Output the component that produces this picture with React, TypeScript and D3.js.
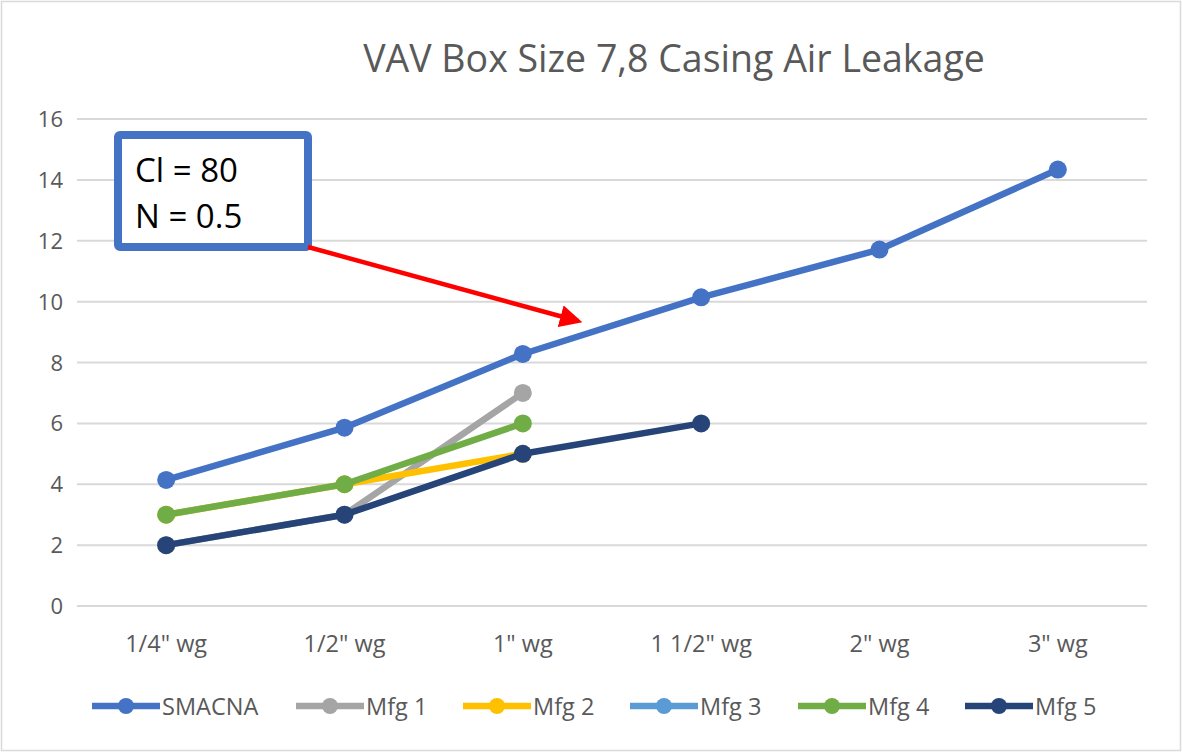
import { useEffect, useRef } from 'react';
import * as d3 from 'd3';

const categories = ['1/4" wg', '1/2" wg', '1" wg', '1 1/2" wg', '2" wg', '3" wg'];
const yTicks = [0, 2, 4, 6, 8, 10, 12, 14, 16];

const smacna = [4.14, 5.86, 8.28, 10.14, 11.71, 14.34];
const mfg1 = [2, 3, 7, null, null, null];
const mfg2 = [3, 4, 5, null, null, null];
const mfg3 = [null, null, null, null, null, null];
const mfg4 = [3, 4, 6, null, null, null];
const mfg5 = [2, 3, 5, 6, null, null];

const seriesNames = ['SMACNA', 'Mfg 1', 'Mfg 2', 'Mfg 3', 'Mfg 4', 'Mfg 5'];
const seriesColors = ['#4472C4', '#A5A5A5', '#FFC000', '#5B9BD5', '#70AD47', '#264478'];
const annotationLines = ['Cl = 80', 'N = 0.5'];

const FONT = '"Open Sans", "DejaVu Sans", sans-serif';

function App() {
  const ref = useRef<SVGSVGElement>(null);

  useEffect(() => {
    document.body.style.margin = '0';
    const w = 1182;
    const h = 752;
    const m = { top: 119, right: 35, bottom: 146, left: 77 };

    const svg = d3.select(ref.current).attr('width', w).attr('height', h);
    svg.selectAll('*').remove();

    svg.append('rect')
      .attr('x', 1.5).attr('y', 1.5)
      .attr('width', w - 3).attr('height', h - 3)
      .attr('fill', '#fff').attr('stroke', '#d9d9d9').attr('stroke-width', 1.5);

    const x = d3.scaleBand().domain(categories).range([m.left, w - m.right]);
    const y = d3.scaleLinear().domain([0, 16]).range([h - m.bottom, m.top]);
    const cx = (c: string) => (x(c) as number) + x.bandwidth() / 2;

    svg.append('text')
      .attr('x', 674).attr('y', 72)
      .attr('text-anchor', 'middle')
      .attr('font-family', FONT).attr('font-size', 37.5)
      .attr('fill', '#595959')
      .text('VAV Box Size 7,8 Casing Air Leakage');

    // gridlines
    svg.append('g')
      .selectAll('line')
      .data(yTicks)
      .join('line')
      .attr('x1', m.left).attr('x2', w - m.right)
      .attr('y1', d => y(d)).attr('y2', d => y(d))
      .attr('stroke', '#d9d9d9').attr('stroke-width', 2);

    // y labels
    svg.append('g')
      .selectAll('text')
      .data(yTicks)
      .join('text')
      .attr('x', 63).attr('y', d => y(d) + 8)
      .attr('text-anchor', 'end')
      .attr('font-family', FONT).attr('font-size', 22)
      .attr('fill', '#595959')
      .text(d => d);

    // x labels
    svg.append('g')
      .selectAll('text')
      .data(categories)
      .join('text')
      .attr('x', d => cx(d)).attr('y', 652)
      .attr('text-anchor', 'middle')
      .attr('font-family', FONT).attr('font-size', 23.5)
      .attr('fill', '#595959')
      .text(d => d);

    const allSeries = [smacna, mfg1, mfg2, mfg3, mfg4, mfg5];
    const line = d3.line<[string, number | null]>()
      .defined(d => d[1] != null)
      .x(d => cx(d[0]))
      .y(d => y(d[1] as number));

    allSeries.forEach((vals, i) => {
      const pts = categories.map((c, j) => [c, vals[j]] as [string, number | null]);
      const g = svg.append('g');
      g.append('path')
        .datum(pts)
        .attr('d', line)
        .attr('fill', 'none')
        .attr('stroke', seriesColors[i])
        .attr('stroke-width', 6.5)
        .attr('stroke-linejoin', 'round');
      g.selectAll('circle')
        .data(pts.filter(d => d[1] != null))
        .join('circle')
        .attr('cx', d => cx(d[0]))
        .attr('cy', d => y(d[1] as number))
        .attr('r', 9)
        .attr('fill', seriesColors[i]);
    });

    // annotation box
    const box = svg.append('g');
    box.append('rect')
      .attr('x', 118).attr('y', 135)
      .attr('width', 190).attr('height', 112)
      .attr('rx', 2)
      .attr('fill', '#fff')
      .attr('stroke', '#4472C4').attr('stroke-width', 8);
    box.selectAll('text')
      .data(annotationLines)
      .join('text')
      .attr('x', 135).attr('y', (d, i) => 182 + i * 46)
      .attr('font-family', FONT).attr('font-size', 33)
      .attr('fill', '#000')
      .text(d => d);

    // arrow
    const defs = svg.append('defs');
    defs.append('marker')
      .attr('id', 'arrowhead')
      .attr('viewBox', '0 0 10 10')
      .attr('refX', 8).attr('refY', 5)
      .attr('markerWidth', 5).attr('markerHeight', 5)
      .attr('orient', 'auto')
      .append('path')
      .attr('d', 'M0,0 L10,5 L0,10 z')
      .attr('fill', '#FF0000');
    svg.append('line')
      .attr('x1', 308).attr('y1', 247)
      .attr('x2', 578).attr('y2', 321)
      .attr('stroke', '#FF0000').attr('stroke-width', 4.5)
      .attr('marker-end', 'url(#arrowhead)');

    // legend
    const legendX = [92, 296, 463, 630, 798, 965];
    const lg = svg.append('g');
    seriesNames.forEach((name, i) => {
      const g = lg.append('g').attr('transform', `translate(${legendX[i]},706)`);
      g.append('line')
        .attr('x1', 0).attr('x2', 68)
        .attr('stroke', seriesColors[i]).attr('stroke-width', 6.5);
      g.append('circle').attr('cx', 34).attr('r', 8).attr('fill', seriesColors[i]);
      g.append('text')
        .attr('x', 70).attr('y', 8.5)
        .attr('font-family', FONT).attr('font-size', 23.5)
        .attr('fill', '#595959')
        .text(name);
    });

    return () => { svg.selectAll('*').remove(); };
  }, []);

  return <svg ref={ref} role="img" aria-label="VAV Box Size 7,8 Casing Air Leakage" style={{ display: 'block' }} />;
}

export default App;
